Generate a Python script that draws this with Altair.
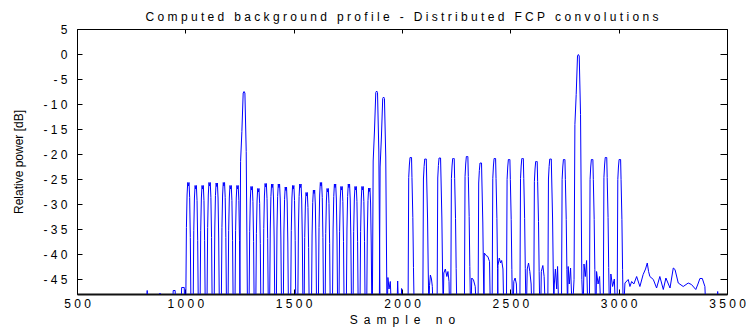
import altair as alt
import pandas as pd

NB = "\u00a0"
EN = "\u2002"

# ---- data ----
# narrow peaks, first comb (~ -26 dB)
a_x = [1014, 1048, 1080, 1112, 1145, 1178, 1209, 1241, 1306, 1337, 1371, 1401, 1432,
       1464, 1498, 1531, 1560, 1594, 1626, 1657, 1691, 1721, 1755, 1786, 1818, 1849]
a_top = [-25.7, -26.3, -26.3, -25.7, -25.8, -25.7, -26.3, -26.3, -26.5, -26.9, -25.9, -26.0, -26.0,
         -26.6, -26.3, -26.0, -27.7, -27.2, -25.7, -26.9, -26.0, -26.5, -26.0, -26.5, -26.5, -26.8]
# strong peaks
big_x = [1271, 1883, 1915, 2814]
big_top = [-7.5, -7.4, -8.6, -0.1]
# second comb (~ -21 dB)
b_x = [2041, 2109, 2175, 2238, 2301, 2364, 2429, 2495, 2557, 2621, 2686, 2749, 2878, 2942, 3006]
b_top = [-20.7, -21.0, -20.8, -20.9, -20.5, -21.8, -20.9, -21.1, -20.9, -21.5, -21.0, -21.1,
         -21.1, -20.7, -21.1]
# low-level residue near the floor
noise_x = [818, 824, 830, 878, 883, 888, 940, 944, 953, 957, 980, 983, 995, 998,
           1932, 1935, 1940, 1946, 1952, 1976, 1980, 1985, 1996, 1998, 2001,
           2127, 2131, 2136, 2140, 2144,
           2190, 2193, 2200, 2207, 2212, 2217, 2220,
           2318, 2322, 2330, 2338, 2344,
           2378, 2380, 2388, 2396, 2404, 2408,
           2440, 2443, 2449, 2455, 2460, 2466, 2470,
           2512, 2516, 2522, 2528, 2532,
           2574, 2578, 2584, 2590, 2596, 2600,
           2640, 2643, 2650, 2656, 2662,
           2700, 2703, 2708, 2714, 2718, 2724,
           2764, 2767, 2772, 2778, 2786,
           2836, 2840, 2846, 2852, 2858,
           2895, 2898, 2905, 2912, 2918,
           2960, 2964, 2972, 2980, 2986,
           3022, 3029, 3044, 3052, 3060, 3070, 3083, 3098, 3113, 3124, 3132, 3138, 3144,
           3160, 3175, 3190, 3206, 3218, 3237, 3252, 3260, 3275, 3298, 3321, 3336, 3356,
           3366, 3375, 3386, 3398, 3403, 3452, 3457, 3461]
noise_y = [-52, -47.3, -52, -52, -47.8, -52, -52, -47.3, -47.3, -52, -52, -46.7, -46.7, -52,
           -52, -44.7, -47.0, -45.5, -52, -52, -45.4, -52, -52, -46.9, -52,
           -46.3, -44.2, -45.0, -46.5, -52,
           -52, -43.8, -43.0, -44.5, -43.5, -45.5, -52,
           -52, -44.8, -45.2, -46.5, -52,
           -52, -39.8, -40.3, -40.5, -41.5, -52,
           -52, -42.3, -40.8, -41.8, -41.3, -43.0, -52,
           -52, -45.5, -44.8, -46.0, -52,
           -52, -43.0, -41.8, -43.5, -46.0, -52,
           -52, -43.5, -42.3, -44.5, -52,
           -52, -46.0, -43.0, -47.0, -42.5, -52,
           -52, -42.5, -46.0, -42.8, -52,
           -52, -42.0, -44.5, -41.3, -52,
           -52, -43.5, -46.0, -44.5, -52,
           -52, -44.0, -46.5, -45.0, -52,
           -52, -45.8, -45.1, -46.5, -45.5, -46.0, -44.5, -46.5, -44.1, -43.0, -41.8, -43.5, -44.5,
           -45.1, -46.8, -44.5, -47.1, -44.8, -46.8, -42.8, -43.1, -45.8, -46.5, -45.8, -46.1, -47.1,
           -46.0, -44.9, -44.9, -46.5, -52, -52, -47.5, -52]

# peak outlines (offset in samples, level relative to the peak top)
shape_a_dx = [-13, -9, -6, -3, 0, 3, 6, 9, 13]
shape_a_dy = [-30, -9, -2.5, 0, -0.7, 0, -3, -11, -30]
shape_big_dx = [-20, -16, -10, -4, 0, 4, 10, 16]
shape_big_dy = [-45, -14, -8, -0.3, 0, -0.3, -12, -45]
shape_b_dx = [-13, -10, -7, -4, 0, 3, 5, 9, 12, 15]
shape_b_dy = [-30, -4, -1.5, 0, 0, 0, -4, -12, -22, -30]

x_ticks = [500, 1000, 1500, 2000, 2500, 3000, 3500]
y_ticks = [5, 0, -5, -10, -15, -20, -25, -30, -35, -40, -45]

title_text = "Computed background profile - Distributed FCP convolutions"
x_title = "Sample no"
y_title = "Relative power [dB]"

# ---- build table ----
rows = []
for xs_, tops, dxs, dys in [(a_x, a_top, shape_a_dx, shape_a_dy),
                            (big_x, big_top, shape_big_dx, shape_big_dy),
                            (b_x, b_top, shape_b_dx, shape_b_dy)]:
    for cx, top in zip(xs_, tops):
        for dx, dy in zip(dxs, dys):
            rows.append((cx, cx + dx, top + dy))
for x, y in zip(noise_x, noise_y):
    rows.append((x, x, y))
rows.sort(key=lambda r: r[0])
df = pd.DataFrame({"i": range(len(rows)),
                   "x": [r[1] for r in rows],
                   "y": [r[2] for r in rows]})


def spaced(s, sep=NB):
    return sep.join(s.replace(" ", NB))


FONT = "Liberation Sans"
xs = alt.Scale(domain=[500, 3500], nice=False, zero=False)
ys = alt.Scale(domain=[-48, 5], nice=False, zero=False)
lab_expr = "join(split('' + datum.value, ''), '\u00a0')"

base = alt.Chart(df).mark_line(color="#0000ff", strokeWidth=1, clip=True).encode(
    x=alt.X("x:Q", scale=xs, axis=alt.Axis(
        values=x_ticks, title=spaced(x_title, EN), labelExpr=lab_expr, ticks=False, tickSize=0,
        domain=True, domainWidth=2, domainColor="#111111", grid=False, labelFlush=False,
        labelFont=FONT, labelFontSize=12, labelColor="#000000", labelPadding=4,
        titleFont=FONT, titleFontSize=12, titleFontWeight="normal", titleColor="#000000",
        titlePadding=5)),
    y=alt.Y("y:Q", scale=ys, axis=alt.Axis(
        values=y_ticks, title=y_title, labelExpr=lab_expr, ticks=False, tickSize=0,
        domain=False, grid=False, labelFlush=False,
        labelFont=FONT, labelFontSize=12, labelColor="#000000", labelPadding=10,
        titleFont=FONT, titleFontSize=12, titleFontWeight="normal", titleColor="#000000",
        titlePadding=17)),
    order="i:Q",
)


def tick_layer(xorient, yorient, xlen, ylen):
    return alt.Chart(df).mark_line(opacity=0).encode(
        x=alt.X("x:Q", scale=xs, axis=alt.Axis(
            orient=xorient, offset=-xlen, values=x_ticks, labels=False, domain=False,
            ticks=True, tickSize=xlen, tickColor="#000000", tickWidth=1, grid=False, title=None)),
        y=alt.Y("y:Q", scale=ys, axis=alt.Axis(
            orient=yorient, offset=-ylen, values=y_ticks, labels=False, domain=False,
            ticks=True, tickSize=ylen, tickColor="#000000", tickWidth=1, grid=False, title=None)),
        order="i:Q",
    )


chart = alt.layer(
    base,
    tick_layer("bottom", "left", 5, 5),
    tick_layer("top", "right", 4, 7),
).resolve_axis(x="independent", y="independent").properties(
    width=650, height=265,
    autosize=alt.AutoSizeParams(type="none"),
    padding={"left": 77, "top": 29, "right": 19, "bottom": 34},
    title=alt.TitleParams(text=spaced(title_text), font=FONT, fontSize=12, fontWeight="normal",
                          color="#000000", anchor="middle", frame="group", baseline="alphabetic",
                          offset=4, dy=14),
    background="white",
).configure_view(stroke="#000000", strokeWidth=1)

chart.save("out.html", embed_options={"renderer": "svg", "actions": False})
